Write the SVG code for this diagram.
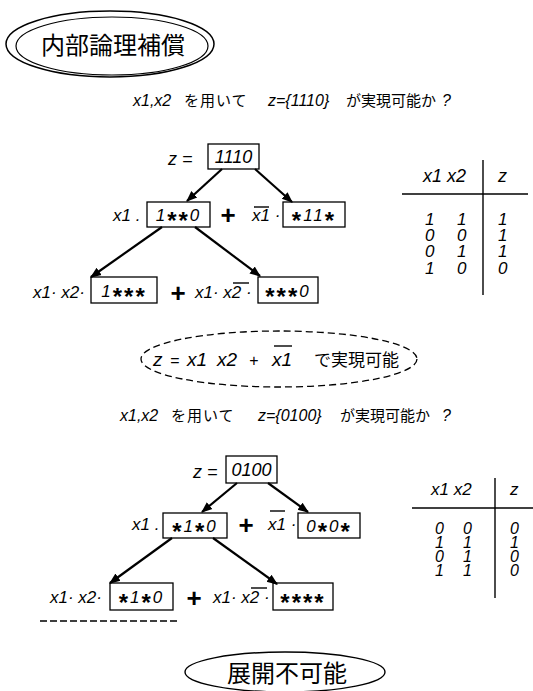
<svg xmlns="http://www.w3.org/2000/svg" width="533" height="691" viewBox="0 0 533 691">
<style>
.t{font-family:"Liberation Sans","Noto Sans CJK JP",sans-serif;font-style:italic;fill:#000}
.j{font-family:"Noto Sans CJK JP",sans-serif;font-style:normal;fill:#000}
.box{fill:none;stroke:#000;stroke-width:1.3}
.ol{stroke:#000;stroke-width:1.4}
.arr{stroke:#000;stroke-width:2.2;marker-end:url(#ah)}
.plus{font-family:"Liberation Sans",sans-serif;font-size:26px;font-weight:bold;fill:#000}
.ln{stroke:#000;stroke-width:1.4}
.v{font-size:17px}
.s{font-size:24px;font-weight:bold;font-style:normal}
</style>
<defs>
<marker id="ah" viewBox="0 0 10 10" refX="9" refY="5" markerWidth="5" markerHeight="5" orient="auto" markerUnits="strokeWidth">
<path d="M0,1 L10,5 L0,9 Z" fill="#000"/>
</marker>
</defs>
<rect width="533" height="691" fill="#fff"/>

<g id="title">
<ellipse cx="110" cy="44" rx="104" ry="33" fill="none" stroke="#000" stroke-width="1.5"/>
<ellipse cx="112" cy="46" rx="96" ry="29" fill="none" stroke="#000" stroke-width="1.2"/>
<text class="j" x="113" y="54" font-size="24" text-anchor="middle">内部論理補償</text>
</g>

<g id="q1" class="t" font-size="16">
<text x="133" y="106">x1,x2</text>
<text class="j" x="184" y="106" font-size="15" letter-spacing="1">を用いて</text>
<text x="268" y="106">z={1110}</text>
<text class="j" x="346" y="106" font-size="15">が実現可能か</text>
<text x="442" y="106">?</text>
</g>

<g id="connectors">
<line class="arr" x1="222" y1="169" x2="187" y2="201"/>
<line class="arr" x1="255" y1="169" x2="292" y2="202"/>
<line class="arr" x1="162" y1="227" x2="91" y2="277"/>
<line class="arr" x1="195" y1="227" x2="260" y2="276"/>
<line class="arr" x1="237" y1="483" x2="202" y2="512"/>
<line class="arr" x1="268" y1="483" x2="308" y2="512"/>
<line class="arr" x1="172" y1="538" x2="110" y2="583"/>
<line class="arr" x1="213" y1="538" x2="277" y2="584"/>
</g>

<g id="tree1-root">
<text class="t" x="168" y="165" font-size="18">z =</text>
<rect class="box" x="208" y="144" width="51" height="25"/>
<text class="t" x="233.5" y="163" font-size="18" text-anchor="middle">1110</text>
</g>

<g id="tree1-row2">
<text class="t v" x="113" y="221">x1 .</text>
<rect class="box" x="147" y="202" width="63" height="25"/>
<text class="t v" x="178.5" y="221" text-anchor="middle" letter-spacing="2">1<tspan class="s" baseline-shift="-8">*</tspan><tspan class="s" baseline-shift="-8">*</tspan>0</text>
<text class="plus" x="228" y="224" text-anchor="middle">+</text>
<text class="t v" x="252" y="221">x1 ·</text>
<line class="ol" x1="254" y1="207" x2="269" y2="207"/>
<rect class="box" x="283" y="202" width="62" height="25"/>
<text class="t v" x="314" y="221" text-anchor="middle" letter-spacing="2"><tspan class="s" baseline-shift="-8">*</tspan>11<tspan class="s" baseline-shift="-8">*</tspan></text>
</g>

<g id="tree1-row3">
<text class="t v" x="33" y="298">x1· x2·</text>
<rect class="box" x="91" y="277" width="66" height="26"/>
<text class="t v" x="124" y="297" text-anchor="middle" letter-spacing="2">1<tspan class="s" baseline-shift="-8">*</tspan><tspan class="s" baseline-shift="-8">*</tspan><tspan class="s" baseline-shift="-8">*</tspan></text>
<text class="plus" x="178" y="302" text-anchor="middle">+</text>
<text class="t v" x="195" y="298">x1· x2 ·</text>
<line class="ol" x1="233" y1="283" x2="249" y2="283"/>
<rect class="box" x="258" y="277" width="60" height="26"/>
<text class="t v" x="288" y="297" text-anchor="middle" letter-spacing="2"><tspan class="s" baseline-shift="-8">*</tspan><tspan class="s" baseline-shift="-8">*</tspan><tspan class="s" baseline-shift="-8">*</tspan>0</text>
</g>

<g id="table1" class="t" font-size="17">
<text x="423" y="182" font-size="18">x1 x2</text>
<text x="498" y="182" font-size="18">z</text>
<line class="ln" x1="483" y1="160" x2="483" y2="295"/>
<line class="ln" x1="402" y1="194" x2="528" y2="194"/>
<text x="425" y="225">1</text><text x="457" y="225">1</text><text x="498" y="225">1</text>
<text x="425" y="241">0</text><text x="457" y="241">0</text><text x="498" y="241">1</text>
<text x="425" y="257">0</text><text x="457" y="257">1</text><text x="498" y="257">1</text>
<text x="425" y="274">1</text><text x="457" y="274">0</text><text x="498" y="274">0</text>
</g>

<g id="result1">
<ellipse cx="279" cy="359" rx="138" ry="28" fill="none" stroke="#000" stroke-width="1.3" stroke-dasharray="7 4"/>
<text class="t" y="366" font-size="19"><tspan x="153">z</tspan><tspan x="170" font-size="16">=</tspan><tspan x="187">x1</tspan><tspan x="217">x2</tspan><tspan x="249" font-size="16">+</tspan><tspan x="272">x1</tspan></text>
<line class="ol" x1="274" y1="346" x2="292" y2="346"/>
<text class="j" x="314" y="366" font-size="17">で実現可能</text>
</g>

<g id="q2" class="t" font-size="16">
<text x="120" y="421">x1,x2</text>
<text class="j" x="171" y="421" font-size="15" letter-spacing="1">を用いて</text>
<text x="258" y="421">z={0100}</text>
<text class="j" x="340" y="421" font-size="15">が実現可能か</text>
<text x="442" y="421">?</text>
</g>

<g id="tree2-root">
<text class="t" x="193" y="478" font-size="18">z =</text>
<rect class="box" x="226" y="456" width="51" height="27"/>
<text class="t" x="251.5" y="476" font-size="18" text-anchor="middle">0100</text>
</g>

<g id="tree2-row2">
<text class="t v" x="132" y="530">x1 .</text>
<rect class="box" x="163" y="513" width="64" height="25"/>
<text class="t v" x="195" y="532" text-anchor="middle" letter-spacing="2"><tspan class="s" baseline-shift="-8">*</tspan>1<tspan class="s" baseline-shift="-8">*</tspan>0</text>
<text class="plus" x="246" y="534" text-anchor="middle">+</text>
<text class="t v" x="268" y="530">x1 ·</text>
<line class="ol" x1="270" y1="511" x2="285" y2="511"/>
<rect class="box" x="298" y="513" width="62" height="25"/>
<text class="t v" x="329" y="532" text-anchor="middle" letter-spacing="2">0<tspan class="s" baseline-shift="-8">*</tspan>0<tspan class="s" baseline-shift="-8">*</tspan></text>
</g>

<g id="tree2-row3">
<text class="t v" x="50" y="603">x1· x2·</text>
<rect class="box" x="110" y="583" width="63" height="27"/>
<text class="t v" x="141.5" y="603" text-anchor="middle" letter-spacing="2"><tspan class="s" baseline-shift="-8">*</tspan>1<tspan class="s" baseline-shift="-8">*</tspan>0</text>
<text class="plus" x="194" y="607" text-anchor="middle">+</text>
<text class="t v" x="213" y="603">x1· x2 ·</text>
<line class="ol" x1="251" y1="588" x2="267" y2="588"/>
<rect class="box" x="273" y="583" width="60" height="27"/>
<text class="t v" x="303" y="603" text-anchor="middle" letter-spacing="2"><tspan class="s" baseline-shift="-8">*</tspan><tspan class="s" baseline-shift="-8">*</tspan><tspan class="s" baseline-shift="-8">*</tspan><tspan class="s" baseline-shift="-8">*</tspan></text>
<line stroke="#000" stroke-width="1.5" stroke-dasharray="7 3" x1="40" y1="621" x2="177" y2="621"/>
</g>

<g id="table2" class="t" font-size="16">
<text x="431" y="495" font-size="17">x1 x2</text>
<text x="510" y="495" font-size="17">z</text>
<line class="ln" x1="495" y1="478" x2="495" y2="598"/>
<line class="ln" x1="412" y1="508" x2="533" y2="508"/>
<text x="435" y="534">0</text><text x="463" y="534">0</text><text x="510" y="534">0</text>
<text x="435" y="548">1</text><text x="463" y="548">1</text><text x="510" y="548">1</text>
<text x="435" y="562">0</text><text x="463" y="562">1</text><text x="510" y="562">0</text>
<text x="435" y="576">1</text><text x="463" y="576">1</text><text x="510" y="576">0</text>
</g>

<g id="result2">
<ellipse cx="285" cy="672" rx="100" ry="20" fill="none" stroke="#000" stroke-width="1.4"/>
<text class="j" x="287" y="682" font-size="24" text-anchor="middle">展開不可能</text>
</g>
</svg>
